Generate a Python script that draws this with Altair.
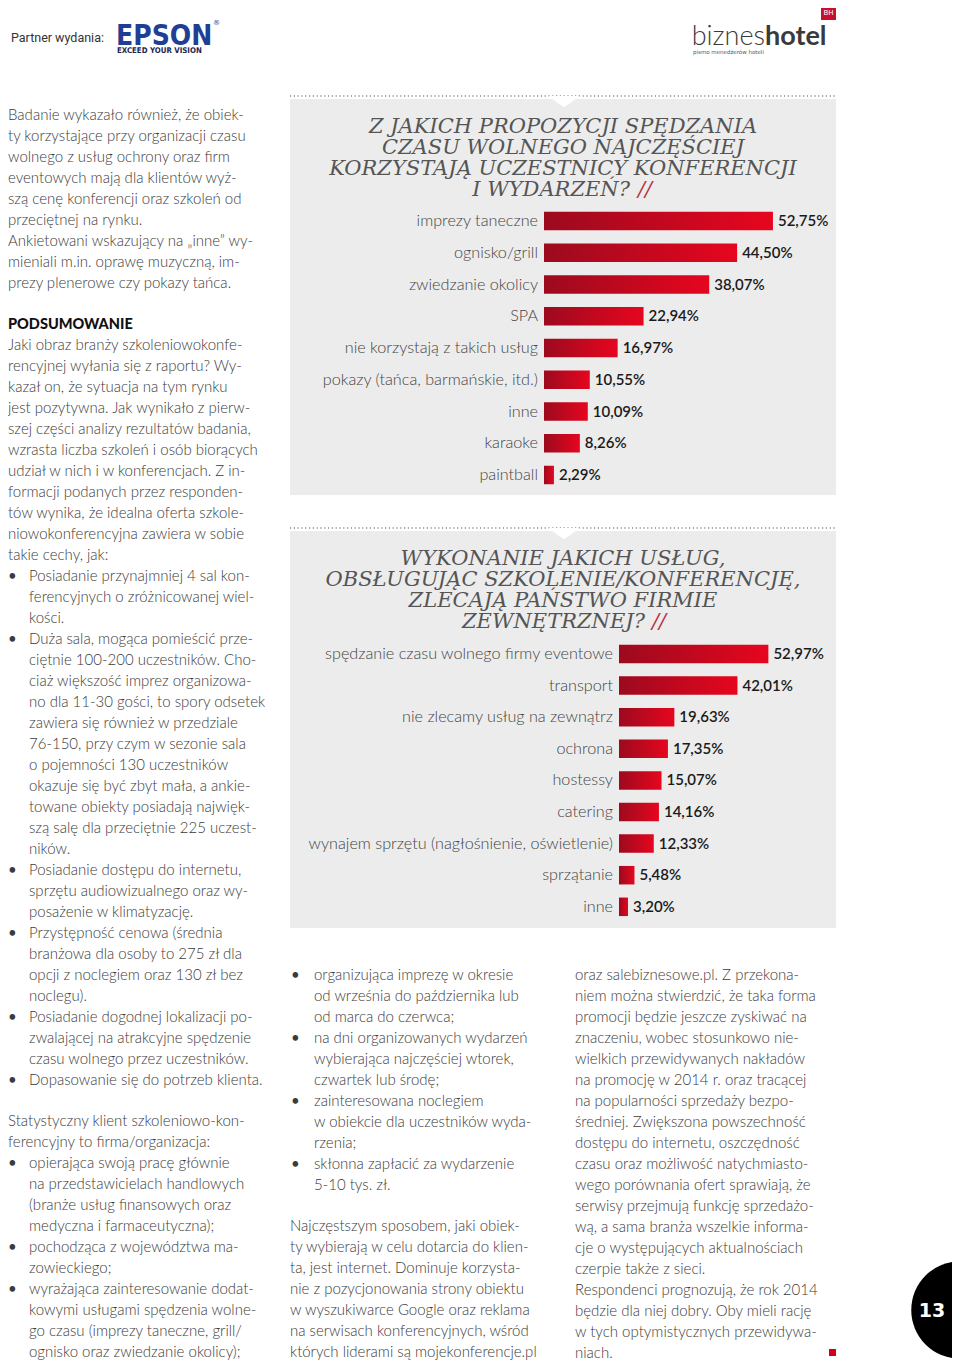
import altair as alt
import pandas as pd

# ---------------- data ----------------
cats1 = ["imprezy taneczne", "ognisko/grill", "zwiedzanie okolicy", "SPA",
         "nie korzystają z takich usług", "pokazy (tańca, barmańskie, itd.)",
         "inne", "karaoke", "paintball"]
vals1 = [52.75, 44.50, 38.07, 22.94, 16.97, 10.55, 10.09, 8.26, 2.29]

cats2 = ["spędzanie czasu wolnego firmy eventowe", "transport",
         "nie zlecamy usług na zewnątrz", "ochrona", "hostessy", "catering",
         "wynajem sprzętu (nagłośnienie, oświetlenie)", "sprzątanie", "inne"]
vals2 = [52.97, 42.01, 19.63, 17.35, 15.07, 14.16, 12.33, 5.48, 3.20]

title1 = ["Z JAKICH PROPOZYCJI SPĘDZANIA", "CZASU WOLNEGO NAJCZĘŚCIEJ",
          "KORZYSTAJĄ UCZESTNICY KONFERENCJI"]
title1_last = "I WYDARZEŃ?"
title2 = ["WYKONANIE JAKICH USŁUG,", "OBSŁUGUJĄC SZKOLENIE/KONFERENCJĘ,",
          "ZLECAJĄ PAŃSTWO FIRMIE"]
title2_last = "ZEWNĘTRZNEJ?"

textA = ["Badanie wykazało również, że obiek-",
         "ty korzystające przy organizacji czasu",
         "wolnego z usług ochrony oraz firm",
         "eventowych mają dla klientów wyż-",
         "szą cenę konferencji oraz szkoleń od",
         "przeciętnej na rynku.",
         "Ankietowani wskazujący na „inne” wy-",
         "mieniali m.in. oprawę muzyczną, im-",
         "prezy plenerowe czy pokazy tańca."]
heading = "PODSUMOWANIE"
textB = ["Jaki obraz branży szkoleniowokonfe-",
         "rencyjnej wyłania się z raportu? Wy-",
         "kazał on, że sytuacja na tym rynku",
         "jest pozytywna. Jak wynikało z pierw-",
         "szej części analizy rezultatów badania,",
         "wzrasta liczba szkoleń i osób biorących",
         "udział w nich i w konferencjach. Z in-",
         "formacji podanych przez responden-",
         "tów wynika, że idealna oferta szkole-",
         "niowokonferencyjna zawiera w sobie",
         "takie cechy, jak:"]
bulletsB = [["Posiadanie przynajmniej 4 sal kon-",
             "ferencyjnych o zróżnicowanej wiel-", "kości."],
            ["Duża sala, mogąca pomieścić prze-",
             "ciętnie 100-200 uczestników. Cho-",
             "ciaż większość imprez organizowa-",
             "no dla 11-30 gości, to spory odsetek",
             "zawiera się również w przedziale",
             "76-150, przy czym w sezonie sala",
             "o pojemności 130 uczestników",
             "okazuje się być zbyt mała, a ankie-",
             "towane obiekty posiadają najwięk-",
             "szą salę dla przeciętnie 225 uczest-", "ników."],
            ["Posiadanie dostępu do internetu,",
             "sprzętu audiowizualnego oraz wy-", "posażenie w klimatyzację."],
            ["Przystępność cenowa (średnia", "branżowa dla osoby to 275 zł dla",
             "opcji z noclegiem oraz 130 zł bez", "noclegu)."],
            ["Posiadanie dogodnej lokalizacji po-",
             "zwalającej na atrakcyjne spędzenie",
             "czasu wolnego przez uczestników."],
            ["Dopasowanie się do potrzeb klienta."]]
textC = ["Statystyczny klient szkoleniowo-kon-", "ferencyjny to firma/organizacja:"]
bulletsC = [["opierająca swoją pracę głównie", "na przedstawicielach handlowych",
             "(branże usług finansowych oraz", "medyczna i farmaceutyczna);"],
            ["pochodząca z województwa ma-", "zowieckiego;"],
            ["wyrażająca zainteresowanie dodat-", "kowymi usługami spędzenia wolne-",
             "go czasu (imprezy taneczne, grill/", "ognisko oraz zwiedzanie okolicy);"]]
bulletsD = [["organizująca imprezę w okresie", "od września do października lub",
             "od marca do czerwca;"],
            ["na dni organizowanych wydarzeń", "wybierająca najczęściej wtorek,",
             "czwartek lub środę;"],
            ["zainteresowana noclegiem", "w obiekcie dla uczestników wyda-", "rzenia;"],
            ["skłonna zapłacić za wydarzenie", "5-10 tys. zł."]]
textD = ["Najczęstszym sposobem, jaki obiek-",
         "ty wybierają w celu dotarcia do klien-",
         "ta, jest internet. Dominuje korzysta-",
         "nie z pozycjonowania strony obiektu",
         "w wyszukiwarce Google oraz reklama",
         "na serwisach konferencyjnych, wśród",
         "których liderami są mojekonferencje.pl"]
textE = ["oraz salebiznesowe.pl. Z przekona-",
         "niem można stwierdzić, że taka forma",
         "promocji będzie jeszcze zyskiwać na",
         "znaczeniu, wobec stosunkowo nie-",
         "wielkich przewidywanych nakładów",
         "na promocję w 2014 r. oraz tracącej",
         "na popularności sprzedaży bezpo-",
         "średniej. Zwiększona powszechność",
         "dostępu do internetu, oszczędność",
         "czasu oraz możliwość natychmiasto-",
         "wego porównania ofert sprawiają, że",
         "serwisy przejmują funkcję sprzedażo-",
         "wą, a sama branża wszelkie informa-",
         "cje o występujących aktualnościach",
         "czerpie także z sieci.",
         "Respondenci prognozują, że rok 2014",
         "będzie dla niej dobry. Oby mieli rację",
         "w tych optymistycznych przewidywa-",
         "niach."]
page_no = "13"

# ---------------- helpers ----------------
O = 8
def P(v):
    return v - O

BODY_FONT = "Lato"
BODY = "#3b3b3b"
LH = 21
one = pd.DataFrame({"k": [0]})


def block(lines, x, yc, size=15, weight=300, color=BODY, font=BODY_FONT,
          align="left", style="normal", lh=LH, dy=5):
    return alt.Chart(one).mark_text(
        align=align, baseline="alphabetic", font=font, fontSize=size,
        fontWeight=weight, fontStyle=style, color=color, lineHeight=lh
    ).encode(x=alt.value(P(x)), y=alt.value(P(yc + dy)), text=alt.value(lines))


def bullet_list(items, xb, xt, yc0):
    out = []
    y = yc0
    for it in items:
        out.append(block(["•"], xb, y, weight=400))
        out.append(block(it, xt, y))
        y += LH * len(it)
    return out


def rect(x1, x2, y1, y2, color):
    return alt.Chart(one).mark_rect(color=color).encode(
        x=alt.value(P(x1)), x2=alt.value(P(x2)),
        y=alt.value(P(y1)), y2=alt.value(P(y2)))


def dotted(x1, x2, y):
    return alt.Chart(one).mark_rule(color="#8c8c8c", strokeDash=[1.2, 2.6],
                                    strokeWidth=1.3).encode(
        x=alt.value(P(x1)), x2=alt.value(P(x2)), y=alt.value(P(y)))


def notch(xc, y):
    return alt.Chart(one).mark_point(
        shape="M-1,0L1,0L0,0.7Z", filled=True, color="white", opacity=1,
        size=1024, strokeWidth=0).encode(x=alt.value(P(xc)), y=alt.value(P(y)))


def pct(v):
    return f"{v:.2f}".replace(".", ",") + "%"


grad = alt.LinearGradient(
    gradient="linear",
    stops=[alt.GradientStop(color="#9c0a1e", offset=0),
           alt.GradientStop(color="#e6061e", offset=1)],
    x1=0, x2=1, y1=0, y2=0)


def bar_chart(cats, vals, x0, k, yc0, step):
    df = pd.DataFrame({"cat": cats, "v": vals, "lab": [pct(v) for v in vals]})
    xs = alt.Scale(domain=[0, 100], range=[P(x0), P(x0 + 100 * k)])
    start = P(yc0) - step / 2
    pi = 1 - 18.5 / step
    ys = alt.Scale(domain=cats, range=[start, start + len(cats) * step],
                   paddingInner=pi, paddingOuter=pi / 2)
    Y = alt.Y("cat:N", scale=ys, axis=None, sort=None)
    base = alt.Chart(df)
    bars = base.mark_bar(color=grad).encode(
        x=alt.X("v:Q", scale=xs, axis=None), y=Y)
    cat_lab = base.mark_text(align="right", baseline="middle", dx=-6,
                             font=BODY_FONT, fontSize=16.2, fontWeight=300,
                             color="#444444").encode(
        x=alt.XDatum(0, scale=xs, axis=None, type="quantitative"), y=Y,
        text="cat:N")
    val_lab = base.mark_text(align="left", baseline="middle", dx=5,
                             font=BODY_FONT, fontSize=15, fontWeight=600,
                             color="#1a1a1a").encode(
        x=alt.X("v:Q", scale=xs, axis=None), y=Y, text="lab:N")
    return [bars, cat_lab, val_lab]


TFONT = "DejaVu Serif"
TCOL = "#555555"
TSIZE = 21
RED = "#b8323c"
LEFT = 8  # left column edge (page margin)

layers = []

# header
layers.append(block(["Partner wydania:"], 11, 37, size=12.5, weight=400,
                    color="#333333", font="Roboto"))
layers.append(block(["EPSON"], 116, 33, size=28, weight="bold", color="#1f3f95",
                    font="DejaVu Sans Condensed, DejaVu Sans", dy=12))
layers.append(block(["®"], 213, 20, size=7, weight=400, color="#1f3f95", font="DejaVu Sans"))
layers.append(block(["EXCEED YOUR VISION"], 117, 50, size=7.8, weight="bold",
                    color="#1a2450", font="DejaVu Sans Condensed, DejaVu Sans", dy=3))
layers.append(block(["biznes"], 765, 37, size=27, weight=300, color="#3a3a3a",
                    font="Lato", align="right", dy=8))
layers.append(block(["hotel"], 765, 37, size=27, weight="bold", color="#3a3a3a",
                    font="Lato", dy=8))
layers.append(rect(821, 836, 3, 20, "#c8102e"))
layers.append(block(["BH"], 828.5, 12, size=7, weight=400, color="white",
                    font="DejaVu Sans", align="center", dy=3))
layers.append(block(["pismo menedżerów hoteli"], 693, 52, size=5.5, weight=400,
                    color="#555555", font="DejaVu Sans", dy=2))

# left column
layers.append(block(textA, LEFT, 115))
layers.append(block([heading], LEFT, 324, size=14.5, weight=900, color="#111111"))
layers.append(block(textB, LEFT, 345))
layers += bullet_list(bulletsB, LEFT, 29, 345 + LH * len(textB))
layers.append(block(textC, LEFT, 1121))
layers += bullet_list(bulletsC, LEFT, 29, 1121 + LH * len(textC))

# gray boxes
layers.append(rect(290, 836, 99, 495, "#ececec"))
layers.append(dotted(290, 836, 96))
layers.append(notch(564, 96))
layers.append(rect(290, 836, 531, 928, "#ececec"))
layers.append(dotted(290, 836, 528))
layers.append(notch(564, 528))

# chart 1
layers.append(block(title1, 563, 125, size=TSIZE, weight="normal", color=TCOL,
                    font=TFONT, style="italic", align="center", dy=8))
layers.append(block([title1_last], 630, 188, size=TSIZE, weight="normal", color=TCOL,
                    font=TFONT, style="italic", align="right", dy=8))
layers.append(block(["//"], 638, 188, size=TSIZE, weight="normal", color=RED,
                    font=TFONT, style="italic", dy=8))
layers += bar_chart(cats1, vals1, 544, 4.34, 221, 31.75)

# chart 2
layers.append(block(title2, 563, 557, size=TSIZE, weight="normal", color=TCOL,
                    font=TFONT, style="italic", align="center", dy=8))
layers.append(block([title2_last], 645, 620, size=TSIZE, weight="normal", color=TCOL,
                    font=TFONT, style="italic", align="right", dy=8))
layers.append(block(["//"], 652, 620, size=TSIZE, weight="normal", color=RED,
                    font=TFONT, style="italic", dy=8))
layers += bar_chart(cats2, vals2, 619, 2.82, 654, 31.6)

# middle column bottom
layers += bullet_list(bulletsD, 291, 314, 975)
layers.append(block(textD, 290, 1226))

# right column
layers.append(block(textE, 575, 975))
layers.append(rect(829, 836, 1349, 1356, "#d0021b"))

# page number
layers.append(alt.Chart(one).mark_circle(size=9500, color="black", opacity=1).encode(
    x=alt.value(P(960)), y=alt.value(P(1310))))
layers.append(block([page_no], 932, 1310, size=19, weight="bold", color="white",
                    font="DejaVu Sans", align="center", dy=7))

chart = alt.layer(*layers).properties(
    width=944, height=1353, padding=0,
    autosize=alt.AutoSizeParams(type="none"),
    background="white",
).resolve_scale(x="independent", y="independent").configure_view(stroke=None)

chart.save("out.html", embed_options={"renderer": "svg", "actions": False})
